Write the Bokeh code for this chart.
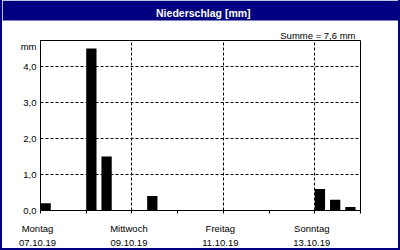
from bokeh.plotting import figure
from bokeh.layouts import row, column
from bokeh.core.properties import value
from bokeh.models import (FixedTicker, Label, BoxAnnotation, Range1d,
                          ColumnDataSource, Spacer)
from bokeh.embed import file_html
from bokeh.resources import INLINE

# ---- data ----
title_text = "Niederschlag [mm]"
unit_text = "mm"
day_names = ["Montag", "Mittwoch", "Freitag", "Sonntag"]
day_dates = ["07.10.19", "09.10.19", "11.10.19", "13.10.19"]
label_days = [0, 2, 4, 6]
n_days = 7
intervals_per_day = 3  # 8-hour intervals
precip = [0.2, 0.0, 0.0,
          4.5, 1.5, 0.0,
          0.0, 0.4, 0.0,
          0.0, 0.0, 0.0,
          0.0, 0.0, 0.0,
          0.0, 0.0, 0.0,
          0.6, 0.3, 0.1]
y_ticks = [0, 1, 2, 3, 4]
y_tick_labels = ["0,0", "1,0", "2,0", "3,0", "4,0"]
y_max = 4.72
unit_pos = 4.6

total = sum(precip)
summe_text = "Summe = " + f"{total:.1f}".replace(".", ",") + " mm"

FONT = "Liberation Sans"
FS = "9.5px"
NAVY = "#000080"
BW = 2              # navy border width
IW = 400 - 2 * BW   # inner width
HEAD_H = 40         # header height (includes navy bar)
FRAME_L, FRAME_W, FRAME_H = 40 - BW, 320, 170
MAIN_BOTTOM = 8
MAIN_H = FRAME_H + MAIN_BOTTOM
FOOT_H = 250 - BW - HEAD_H - MAIN_H
LABEL_SHIFT = -3   # px, labels sit slightly left of their tick


def plain(w, h, color, xr=(0, 1)):
    f = figure(width=w, height=h, toolbar_location=None, output_backend="svg",
               x_axis_location=None, y_axis_location=None, min_border=0,
               background_fill_color=color, border_fill_color=color,
               outline_line_color=None, x_range=Range1d(*xr), y_range=Range1d(0, FOOT_H if color == "white" else 1))
    f.grid.visible = False
    f.frame_align = False
    return f


# ---- header (navy title bar + sum) ----
head = plain(IW, HEAD_H, "white")
head.add_layout(BoxAnnotation(left=0, right=IW, top=HEAD_H, bottom=HEAD_H - 20,
                              left_units="screen", right_units="screen",
                              top_units="screen", bottom_units="screen",
                              fill_color=NAVY, fill_alpha=1, line_color=None))
head.add_layout(Label(x=202.8 - BW, y=HEAD_H - 12, x_units="screen", y_units="screen",
                      text=title_text, text_align="center", text_baseline="alphabetic",
                      text_font=FONT, text_font_size="10.5px", text_font_style="bold",
                      text_color="white"))
head.add_layout(Label(x=355 - BW, y=HEAD_H - 34.5, x_units="screen", y_units="screen",
                      text=summe_text, text_align="right", text_baseline="alphabetic",
                      text_font=FONT, text_font_size=FS, text_color="black"))

# ---- main chart ----
p = figure(width=IW, height=MAIN_H, output_backend="svg", toolbar_location=None,
           x_range=Range1d(0, n_days), y_range=Range1d(0, y_max),
           min_border_left=FRAME_L, min_border_right=IW - FRAME_L - FRAME_W,
           min_border_top=0, min_border_bottom=MAIN_BOTTOM,
           background_fill_color="white", border_fill_color="white")
p.frame_align = False
p.outline_line_color = "black"
p.outline_line_width = 1

bar_w = 0.225
xs = [i / intervals_per_day + bar_w / 2 for i in range(len(precip))]
src = ColumnDataSource(dict(x=xs, top=precip))
p.vbar(x="x", top="top", width=bar_w, bottom=0, source=src,
       fill_color="black", line_color=None)

xa = p.xaxis[0]
xa.ticker = FixedTicker(ticks=list(range(n_days + 1)))
xa.major_label_overrides = {i: "" for i in range(n_days + 1)}
xa.major_label_text_font_size = "0px"
xa.major_label_standoff = 0
xa.major_tick_out = 3
xa.major_tick_in = 0
xa.minor_tick_line_color = None
xa.axis_line_color = "black"
xa.major_tick_line_color = "black"

ya = p.yaxis[0]
ya.ticker = FixedTicker(ticks=y_ticks + [unit_pos])
ya.major_label_overrides = {**dict(zip(y_ticks, y_tick_labels)), unit_pos: unit_text}
ya.major_tick_out = 0
ya.major_tick_in = 0
ya.minor_tick_line_color = None
ya.major_label_standoff = 4
ya.major_label_text_font = FONT
ya.major_label_text_font_size = FS
ya.major_label_text_color = "black"
ya.axis_line_color = "black"

p.xgrid.ticker = FixedTicker(ticks=label_days[1:])
p.ygrid.ticker = FixedTicker(ticks=y_ticks[1:])
for g in (p.xgrid, p.ygrid):
    g.grid_line_color = "black"
    g.grid_line_dash = "3 2"
    g.grid_line_width = 1

# ---- footer with day names and dates, on the same day scale ----
px_per_day = FRAME_W / n_days
foot = plain(IW, FOOT_H, "white",
             xr=(-FRAME_L / px_per_day, (IW - FRAME_L) / px_per_day))
y_name = FOOT_H - (227.5 - HEAD_H - MAIN_H)
y_date = FOOT_H - (242.5 - HEAD_H - MAIN_H)
fsrc = ColumnDataSource(dict(x=label_days, name=day_names, date=day_dates,
                             yn=[y_name] * len(label_days), yd=[y_date] * len(label_days)))
for col, ycol in (("name", "yn"), ("date", "yd")):
    foot.text(x="x", y=ycol, text=col, source=fsrc, x_offset=LABEL_SHIFT,
              text_align="center", text_baseline="alphabetic",
              text_font=value(FONT), text_font_size=value(FS), text_color="black")


def edge(w, h):
    return Spacer(width=w, height=h, styles={"background-color": NAVY})


layout = row(edge(BW, 250),
             column(head, p, foot, edge(IW, BW), spacing=0),
             edge(BW, 250), spacing=0)

open("out.html", "w").write(file_html(layout, INLINE))
